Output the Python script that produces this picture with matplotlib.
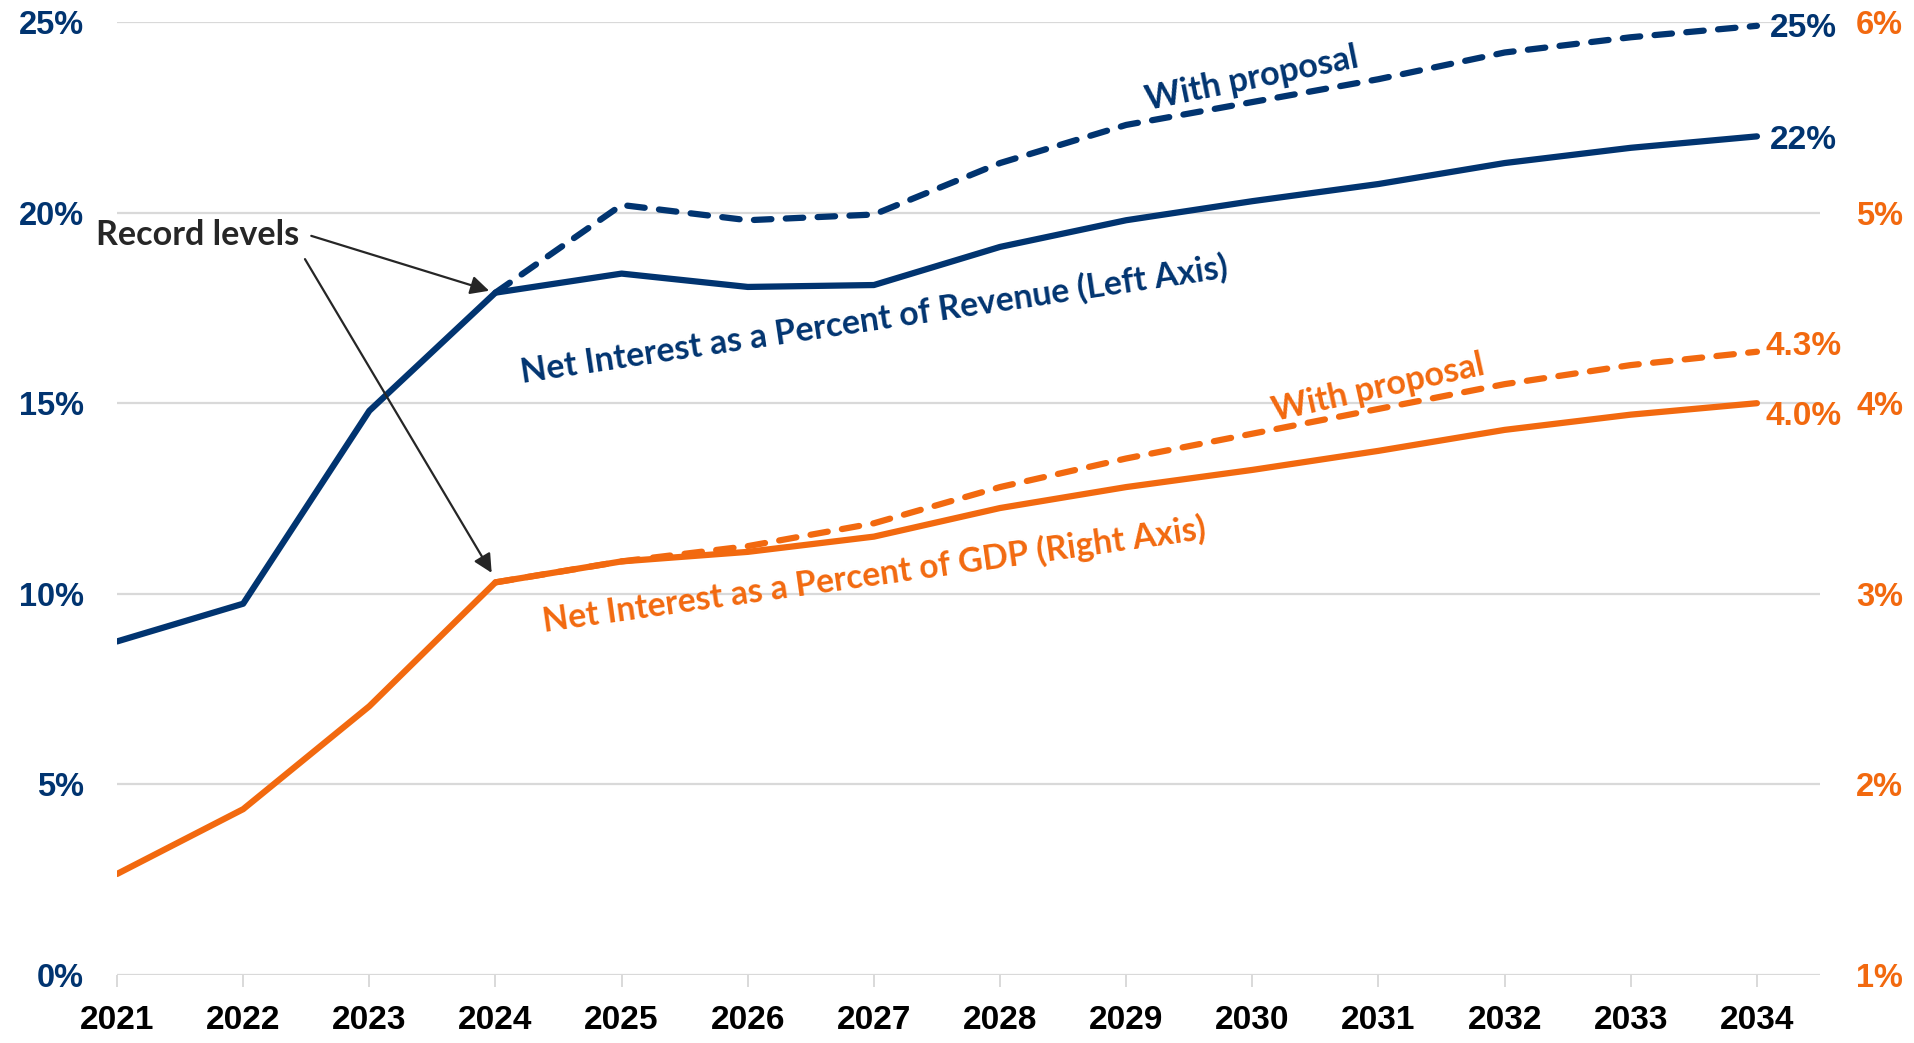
import matplotlib
matplotlib.use("Agg")
import matplotlib.pyplot as plt

# data
years = list(range(2021, 2035))
rev_pct = [8.75, 9.74, 14.8, 17.9, 18.4, 18.05, 18.1, 19.1, 19.8, 20.3, 20.75, 21.3, 21.7, 22.0]
prop_years = list(range(2024, 2035))
rev_pct_prop = [17.9, 20.2, 19.8, 19.95, 21.3, 22.3, 22.9, 23.5, 24.2, 24.6, 24.9]
gdp_pct = [1.53, 1.87, 2.41, 3.06, 3.17, 3.22, 3.30, 3.45, 3.56, 3.65, 3.75, 3.86, 3.94, 4.00]
gdp_pct_prop = [3.06, 3.17, 3.25, 3.37, 3.56, 3.71, 3.84, 3.97, 4.10, 4.20, 4.27]

left_ticks = [0, 5, 10, 15, 20, 25]
right_ticks = [1, 2, 3, 4, 5, 6]

NAVY = "#013470"
ORANGE = "#F2690F"
GRID = "#D9D9D9"
DARK = "#262626"
TICKFONT = "Liberation Sans"
NOTEFONT = "Lato"

fig = plt.figure(figsize=(19.15, 10.43), dpi=100)
ax = fig.add_axes([0.0611, 0.0652, 0.8893, 0.9137])
ax2 = ax.twinx()

ax.set_xlim(2021, 2034.5)
ax.set_ylim(0, 25)
ax2.set_ylim(1, 6)

for s in list(ax.spines.values()) + list(ax2.spines.values()):
    s.set_visible(False)

# horizontal gridlines
for t in left_ticks:
    ax.axhline(t, color=GRID, lw=1.6, zorder=0)

ax.set_xticks(years)
ax.set_xticklabels([str(y) for y in years])
ax.tick_params(axis="x", length=8.6, width=1.4, color=GRID, pad=13,
               labelsize=24, labelcolor="black")
ax.set_yticks(left_ticks)
ax.set_yticklabels([f"{t}%" for t in left_ticks])
ax.tick_params(axis="y", length=0, pad=24, labelsize=23.5, labelcolor=NAVY)
ax2.set_yticks(right_ticks)
ax2.set_yticklabels([f"{t}%" for t in right_ticks])
ax2.tick_params(axis="y", length=0, pad=26, labelsize=23.5, labelcolor=ORANGE)
for lab in ax.get_xticklabels() + ax.get_yticklabels() + ax2.get_yticklabels():
    lab.set_fontfamily(TICKFONT)
    lab.set_fontweight("bold")

lw = 4.5
ax.plot(years, rev_pct, color=NAVY, lw=lw, solid_capstyle="round", zorder=3)
ax.plot(prop_years, rev_pct_prop, color=NAVY, lw=lw, dashes=(2.8, 2.3),
        dash_capstyle="round", zorder=3)
ax2.plot(years, gdp_pct, color=ORANGE, lw=lw, solid_capstyle="round", zorder=3)
ax2.plot(prop_years, gdp_pct_prop, color=ORANGE, lw=lw, dashes=(2.8, 2.3),
         dash_capstyle="round", zorder=3)

# end labels
lab_kw = dict(textcoords="offset points", ha="left", va="center",
              fontsize=24, fontweight="bold", family=TICKFONT)
ax.annotate("25%", xy=(years[-1], rev_pct_prop[-1]), xytext=(9, -2), color=NAVY, **lab_kw)
ax.annotate("22%", xy=(years[-1], rev_pct[-1]), xytext=(9, -3), color=NAVY, **lab_kw)
ax2.annotate("4.3%", xy=(years[-1], gdp_pct_prop[-1]), xytext=(6.5, 3.5), color=ORANGE, **lab_kw)
ax2.annotate("4.0%", xy=(years[-1], gdp_pct[-1]), xytext=(6, -9.5), color=ORANGE, **lab_kw)

# text labels along the lines
note_kw = dict(ha="center", va="center", fontweight="bold", family=NOTEFONT,
               rotation_mode="anchor")
ax.text(2027.0, 17.2, "Net Interest as a Percent of Revenue (Left Axis)",
        color=NAVY, fontsize=24.3, rotation=8.5, **note_kw)
ax.text(2027.0, 10.5, "Net Interest as a Percent of GDP (Right Axis)",
        color=ORANGE, fontsize=24.2, rotation=8.0, **note_kw)
ax.text(2030.0, 23.5, "With proposal", color=NAVY, fontsize=24.6,
        rotation=11.5, **note_kw)
ax.text(2031.0, 15.4, "With proposal", color=ORANGE, fontsize=24.6,
        rotation=12.5, **note_kw)

# record levels callout
ax.text(2020.83, 19.4, "Record levels", color=DARK, fontsize=24.6,
        fontweight="bold", family=NOTEFONT, ha="left", va="center")
arrow = dict(arrowstyle="-|>", mutation_scale=28, lw=1.6, color=DARK,
             shrinkA=0, shrinkB=0)
ax.annotate("", xy=(2023.95, 17.95), xytext=(2022.54, 19.39), arrowprops=arrow)
ax.annotate("", xy=(2023.97, 10.55), xytext=(2022.49, 18.78), arrowprops=arrow)

fig.savefig("out.png", dpi=100)
